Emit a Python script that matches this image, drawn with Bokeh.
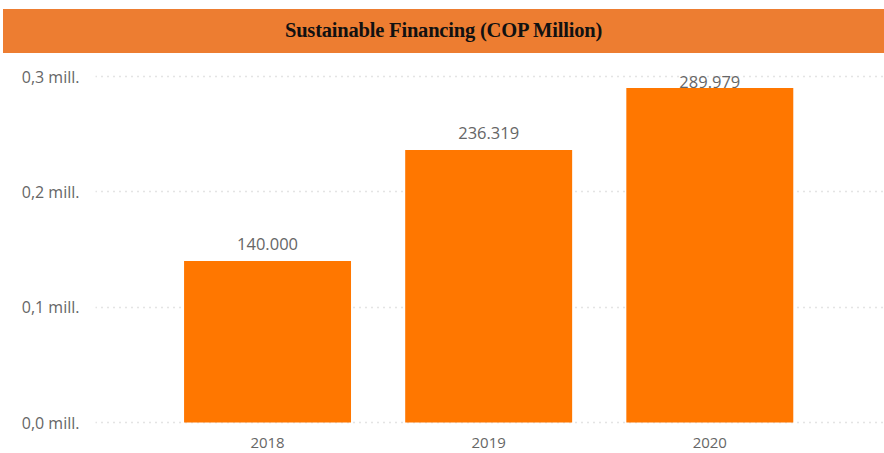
from bokeh.plotting import figure
from bokeh.layouts import column
from bokeh.models import Div, Range1d, FixedTicker, ColumnDataSource
from bokeh.core.properties import value
from bokeh.embed import file_html
from bokeh.resources import INLINE

title_text = "Sustainable Financing (COP Million)"
years = ["2018", "2019", "2020"]
amounts = [140000, 236319, 289979]
amount_labels = ["140.000", "236.319", "289.979"]
y_ticks = [0, 100000, 200000, 300000]
y_tick_labels = ["0,0 mill.", "0,1 mill.", "0,2 mill.", "0,3 mill."]

FONT = "Open Sans"
GRAY = "#666666"

head = Div(
    text=title_text,
    width=881, height=44, margin=(9, 0, 0, 3),
    styles={
        "background-color": "#ED7D31",
        "font-family": "'Liberation Serif', serif",
        "font-weight": "bold",
        "font-size": "20.5px",
        "letter-spacing": "-0.2px",
        "color": "#111111",
        "display": "flex",
        "align-items": "center",
        "justify-content": "center",
        "width": "881px",
        "height": "44px",
    },
)

xs = list(range(len(years)))
label_y = [min(v + 9500, 290000) for v in amounts]
src = ColumnDataSource(dict(x=xs, top=amounts, lab=amount_labels, ly=label_y))

p = figure(
    width=884, height=400, output_backend="svg", toolbar_location=None,
    x_range=Range1d(-0.778, 2.79), y_range=Range1d(-5200, 316500),
    min_border_left=95, min_border_right=0, min_border_top=4, min_border_bottom=25,
)
p.outline_line_color = None
p.background_fill_color = "white"
p.border_fill_color = "white"

p.vbar(x="x", top="top", width=0.755, bottom=0, source=src, color="#FF7700", line_color=None)
p.text(x="x", y="ly", text="lab", source=src, text_align="center", text_baseline="bottom",
       text_font=value(FONT), text_font_size="16.5px", text_color=GRAY)

p.xaxis.ticker = FixedTicker(ticks=xs)
p.xaxis.major_label_overrides = {i: y for i, y in enumerate(years)}
p.yaxis.ticker = FixedTicker(ticks=y_ticks)
p.yaxis.major_label_overrides = {t: l for t, l in zip(y_ticks, y_tick_labels)}
for ax in (p.xaxis, p.yaxis):
    ax.axis_line_color = None
    ax.major_tick_line_color = None
    ax.minor_tick_line_color = None
    ax.major_label_text_font = FONT
    ax.major_label_text_color = GRAY
p.yaxis.major_label_text_font_size = "16px"
p.xaxis.major_label_text_font_size = "15px"
p.yaxis.major_label_standoff = 10
p.xaxis.major_label_standoff = 3

p.xgrid.grid_line_color = None
p.ygrid.grid_line_color = "#c8c8c8"
p.ygrid.grid_line_dash = "1 5"
p.ygrid.grid_line_width = 1.5

layout = column(head, p, spacing=0)
open("out.html", "w").write(file_html(layout, INLINE))
